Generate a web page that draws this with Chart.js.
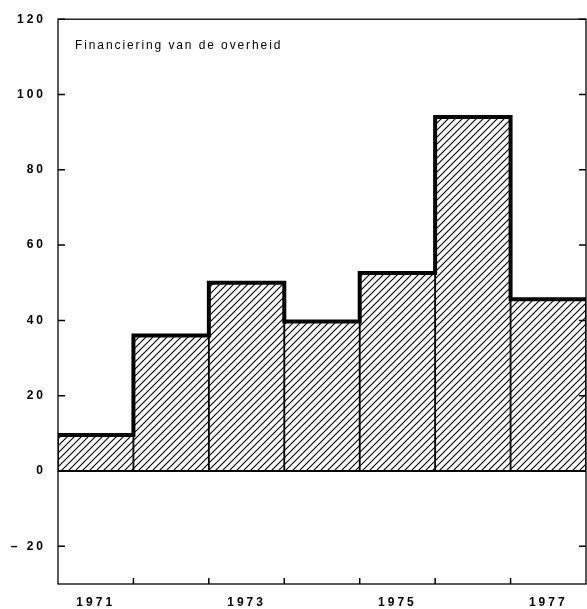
<!DOCTYPE html>
<html>
<head>
<meta charset="utf-8">
<script src="https://cdn.jsdelivr.net/npm/chart.js@4.4.0/dist/chart.umd.min.js"></script>
<style>
  html, body { margin: 0; padding: 0; background: #fff; }
</style>
</head>
<body>
<canvas id="plot" width="587" height="609"></canvas>
<script>
var years = ['1971', '1972', '1973', '1974', '1975', '1976', '1977'];
var values = [9.6, 36, 50, 39.7, 52.6, 94, 45.6];
var yTicks = [-20, 0, 20, 40, 60, 80, 100, 120];
var shownYears = ['1971', '1973', '1975', '1977'];
var chartTitle = 'Financiering van de overheid';

var FONT = '"Liberation Sans", Arial, sans-serif';

// diagonal hatch fill for the bars
function hatch() {
    var s = 7;
    var c = document.createElement('canvas');
    c.width = s; c.height = s;
    var g = c.getContext('2d');
    g.strokeStyle = '#000';
    g.lineWidth = 1.1;
    g.beginPath();
    g.moveTo(0, s); g.lineTo(s, 0);
    g.moveTo(-1, 1); g.lineTo(1, -1);
    g.moveTo(s - 1, s + 1); g.lineTo(s + 1, s - 1);
    g.stroke();
    return g.createPattern(c, 'repeat');
}

// bars sit in the middle of each year slot on a linear x axis
var barPoints = values.map(function (v, i) { return { x: i + 0.5, y: v }; });

// step outline along the bar tops, one point per slot edge
var envelope = values.map(function (v, i) { return { x: i, y: v }; });
envelope.push({ x: values.length, y: values[values.length - 1] });

var spacing = {
    id: 'spacing',
    beforeUpdate: function (chart) { chart.ctx.letterSpacing = '3px'; },
    beforeDraw: function (chart) { chart.ctx.letterSpacing = '3px'; }
};

var frame = {
    id: 'frame',
    afterDatasetsDraw: function (chart) {
        var ctx = chart.ctx, a = chart.chartArea;
        var y = chart.scales.y, x = chart.scales.x;
        ctx.save();
        ctx.strokeStyle = '#000';

        // zero line
        ctx.lineWidth = 2;
        ctx.beginPath();
        ctx.moveTo(a.left, y.getPixelForValue(0));
        ctx.lineTo(a.right, y.getPixelForValue(0));
        ctx.stroke();

        // box
        ctx.lineWidth = 1.3;
        ctx.strokeRect(a.left, a.top, a.right - a.left, a.bottom - a.top);

        // inward ticks
        ctx.lineWidth = 1.5;
        ctx.beginPath();
        yTicks.forEach(function (v) {
            var py = y.getPixelForValue(v);
            ctx.moveTo(a.left, py); ctx.lineTo(a.left + 7, py);
            ctx.moveTo(a.right - 7, py); ctx.lineTo(a.right, py);
        });
        for (var i = 1; i < values.length; i++) {
            var px = x.getPixelForValue(i);
            ctx.moveTo(px, a.bottom); ctx.lineTo(px, a.bottom - 6);
        }
        ctx.stroke();

        // title inside the plot
        ctx.letterSpacing = '1.9px';
        ctx.fillStyle = '#000';
        ctx.font = '12px ' + FONT;
        ctx.textAlign = 'left';
        ctx.textBaseline = 'alphabetic';
        ctx.fillText(chartTitle, a.left + 17, a.top + 30);
        ctx.restore();
    }
};

var tickFont = { family: FONT, size: 12, weight: 'bold' };

var chart = new Chart(document.getElementById('plot').getContext('2d'), {
    type: 'bar',
    data: {
        datasets: [{
            type: 'bar',
            data: barPoints,
            backgroundColor: hatch(),
            borderColor: '#000',
            borderWidth: { top: 0, bottom: 0, left: 0.6, right: 0.6 },
            barPercentage: 1,
            categoryPercentage: 1,
            order: 2
        }, {
            type: 'line',
            data: envelope,
            stepped: true,
            borderColor: '#000',
            borderWidth: 4,
            borderJoinStyle: 'miter',
            borderCapStyle: 'butt',
            pointRadius: 0,
            fill: false,
            order: 1
        }]
    },
    options: {
        responsive: false,
        animation: false,
        layout: { padding: { top: 15, right: 1, left: 0, bottom: 0 } },
        plugins: { legend: { display: false }, tooltip: { enabled: false } },
        scales: {
            x: {
                type: 'linear',
                offset: false,
                min: 0,
                max: years.length,
                afterBuildTicks: function (s) {
                    s.ticks = years.map(function (y, i) { return { value: i + 0.5 }; });
                },
                grid: { display: false, drawTicks: false },
                border: { display: false },
                ticks: {
                    autoSkip: false,
                    maxRotation: 0,
                    padding: 11,
                    color: '#000',
                    font: tickFont,
                    callback: function (v) {
                        var l = years[Math.floor(v)];
                        return shownYears.indexOf(l) >= 0 ? l : '';
                    }
                },
                afterFit: function (s) { s.height = 25; }
            },
            y: {
                min: -30,
                max: 120,
                afterBuildTicks: function (s) {
                    s.ticks = yTicks.map(function (v) { return { value: v }; });
                },
                grid: { display: false, drawTicks: false },
                border: { display: false },
                ticks: {
                    padding: 12,
                    color: '#000',
                    font: tickFont,
                    callback: function (v) {
                        return v < 0 ? '\u2013 ' + Math.abs(v) : String(v);
                    }
                },
                afterFit: function (s) { s.width = 58; }
            }
        }
    },
    plugins: [spacing, frame]
});
</script>
</body>
</html>
